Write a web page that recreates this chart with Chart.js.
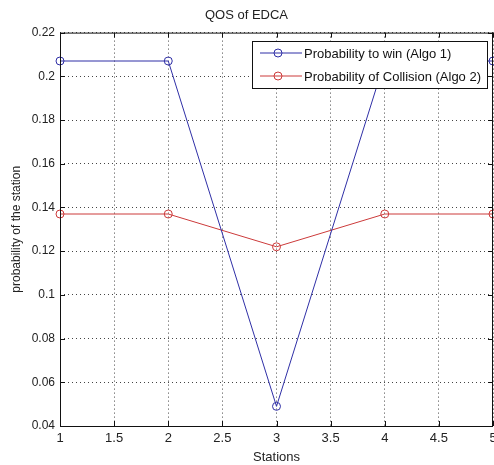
<!DOCTYPE html>
<html>
<head>
<meta charset="utf-8">
<script src="https://cdn.jsdelivr.net/npm/chart.js@4"></script>
<style>
  html, body { margin: 0; padding: 0; background: #fff; }
  #wrap { width: 494px; height: 465px; position: relative; }
</style>
</head>
<body>
<div id="wrap"><canvas id="chart"></canvas></div>
<script>
/* ------------------ DATA ------------------ */
const stations = [1, 2, 3, 4, 5];
const winProb = [0.207, 0.207, 0.049, 0.207, 0.207];
const collisionProb = [0.137, 0.137, 0.122, 0.137, 0.137];
const xTicks = [1, 1.5, 2, 2.5, 3, 3.5, 4, 4.5, 5];
const yTicks = [0.04, 0.06, 0.08, 0.1, 0.12, 0.14, 0.16, 0.18, 0.2, 0.22];
const seriesNames = ["Probability to win (Algo 1)", "Probability of Collision (Algo 2)"];

const blue = "#2f2fa6";
const red = "#cc3a3a";
const font = "Liberation Sans, Arial, sans-serif";

/* ------------------ BOX, INWARD TICKS, LEGEND ------------------ */
const matlabFrame = {
    id: "matlabFrame",
    afterDatasetsDraw(chart) {
        const { ctx, chartArea: a, scales } = chart;
        ctx.save();
        ctx.strokeStyle = "#111";
        ctx.lineWidth = 1;
        ctx.strokeRect(a.left + 0.5, a.top + 0.5, a.right - a.left - 1, a.bottom - a.top);

        // ticks point inward on all four sides
        ctx.beginPath();
        xTicks.forEach(v => {
            const x = Math.round(scales.x.getPixelForValue(v)) + 0.5;
            ctx.moveTo(x, a.bottom); ctx.lineTo(x, a.bottom - 5);
            ctx.moveTo(x, a.top); ctx.lineTo(x, a.top + 5);
        });
        yTicks.forEach(v => {
            const y = Math.round(scales.y.getPixelForValue(v)) + 0.5;
            ctx.moveTo(a.left, y); ctx.lineTo(a.left + 5, y);
            ctx.moveTo(a.right, y); ctx.lineTo(a.right - 5, y);
        });
        ctx.stroke();

        // legend box in the top right corner
        const bx = 252, by = 41, bw = 235, bh = 47;
        ctx.fillStyle = "#fff";
        ctx.fillRect(bx, by, bw, bh);
        ctx.strokeStyle = "#111";
        ctx.strokeRect(bx + 0.5, by + 0.5, bw, bh);

        const colors = [blue, red];
        seriesNames.forEach((name, i) => {
            const y = by + 12 + i * 23;
            ctx.strokeStyle = colors[i];
            ctx.beginPath();
            ctx.moveTo(bx + 8, y); ctx.lineTo(bx + 50, y);
            ctx.stroke();
            ctx.beginPath();
            ctx.arc(bx + 26, y, 4, 0, Math.PI * 2);
            ctx.stroke();
            ctx.fillStyle = "#111";
            ctx.font = "13px " + font;
            ctx.textBaseline = "middle";
            ctx.fillText(name, bx + 52, y + 1);
        });
        ctx.restore();
    }
};

new Chart(document.getElementById("chart"), {
    type: "line",
    data: {
        datasets: [
            {
                label: seriesNames[0],
                data: stations.map((s, i) => ({ x: s, y: winProb[i] })),
                borderColor: blue,
                borderWidth: 1,
                pointStyle: "circle",
                pointRadius: 4,
                pointBorderWidth: 1,
                pointBackgroundColor: "rgba(0,0,0,0)",
                pointBorderColor: blue,
                clip: false
            },
            {
                label: seriesNames[1],
                data: stations.map((s, i) => ({ x: s, y: collisionProb[i] })),
                borderColor: red,
                borderWidth: 1,
                pointStyle: "circle",
                pointRadius: 4,
                pointBorderWidth: 1,
                pointBackgroundColor: "rgba(0,0,0,0)",
                pointBorderColor: red,
                clip: false
            }
        ]
    },
    options: {
        responsive: true,
        maintainAspectRatio: false,
        animation: false,
        layout: { autoPadding: false, padding: { left: 0, right: 1, top: 0, bottom: 0 } },
        plugins: {
            legend: { display: false },
            tooltip: { enabled: false },
            title: {
                display: true,
                text: "QOS of EDCA",
                color: "#222",
                font: { family: font, size: 13, weight: "normal" },
                padding: { top: 8, bottom: 9 }
            }
        },
        scales: {
            x: {
                type: "linear",
                min: 1,
                max: 5,
                afterBuildTicks: s => { s.ticks = xTicks.map(v => ({ value: v })); },
                afterFit: s => { s.paddingLeft = 0; s.paddingRight = 0; s.height = 39; },
                grid: { color: "#444", drawTicks: false, tickLength: 0 },
                border: { display: false, dash: [1, 3] },
                ticks: {
                    color: "#222",
                    padding: 5,
                    maxRotation: 0,
                    font: { family: font, size: 13 },
                    callback: v => String(+v.toFixed(2))
                },
                title: {
                    display: true,
                    text: "Stations",
                    color: "#222",
                    font: { family: font, size: 13 },
                    padding: { top: 0, bottom: 0 }
                }
            },
            y: {
                type: "linear",
                min: 0.04,
                max: 0.22,
                afterBuildTicks: s => { s.ticks = yTicks.map(v => ({ value: v })); },
                afterFit: s => { s.paddingTop = 0; s.paddingBottom = 0; s.width = 60; },
                grid: { color: "#444", drawTicks: false, tickLength: 0 },
                border: { display: false, dash: [1, 3] },
                ticks: {
                    color: "#222",
                    padding: 5,
                    font: { family: font, size: 12 },
                    callback: v => String(+v.toFixed(2))
                },
                title: {
                    display: true,
                    text: "probability of the station",
                    color: "#222",
                    font: { family: font, size: 12 },
                    padding: { top: 9, bottom: 0 }
                }
            }
        }
    },
    plugins: [matlabFrame]
});
</script>
</body>
</html>
